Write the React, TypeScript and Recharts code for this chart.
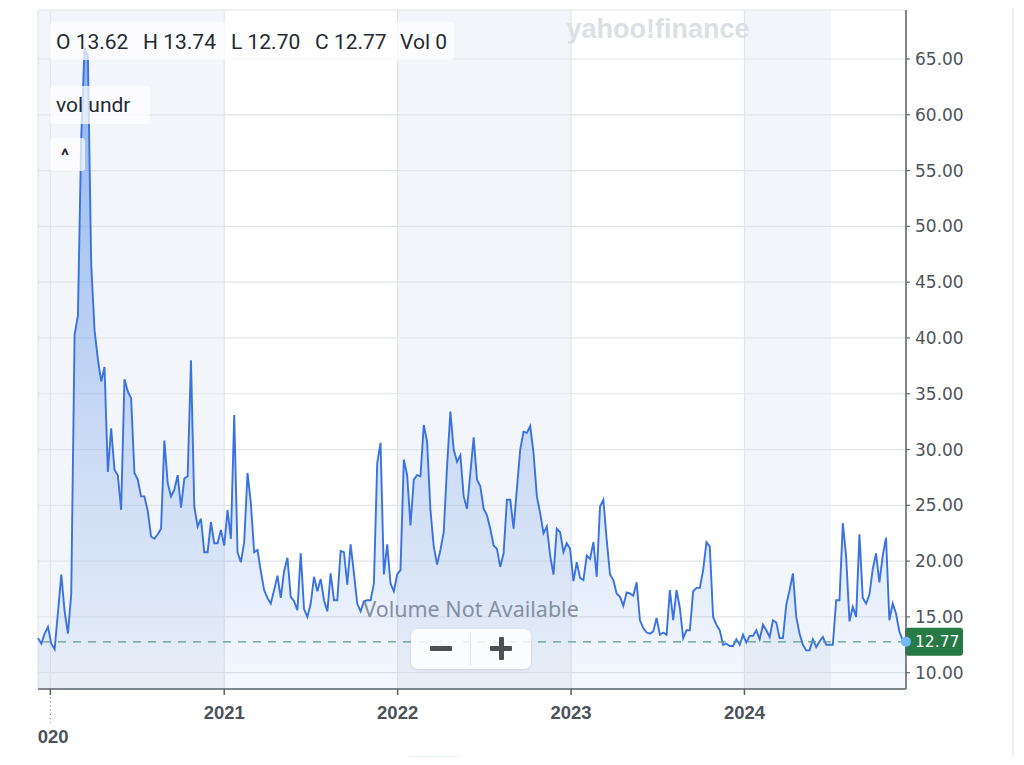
import React from 'react';
import {
  ComposedChart,
  Area,
  XAxis,
  YAxis,
  CartesianGrid,
  ReferenceLine,
  ReferenceArea,
  ReferenceDot,
} from 'recharts';

// ---- data (weekly closes) ----
const START_DATE = '2019-12-06';
const closes: number[] = [
  // Dec 2019 - Sep 2020
  13.1, 12.6, 13.5, 14.1, 12.6, 12.1, 15.4, 18.8, 15.5, 13.5, 17.1, 40.3, 42.0, 58.0, 66.0, 65.2, 46.6, 40.7, 38.1, 36.1,
  37.4, 28.0, 31.9, 28.2, 27.7, 24.6, 36.3, 35.2, 34.6, 27.9, 27.3, 25.8, 25.8, 24.5, 22.2, 22.0, 22.4, 22.9, 30.8, 27.0,
  25.8, 26.4,
  // Sep 2020 - Jul 2021
  27.7, 24.8, 27.4, 27.6, 38.0, 24.9, 23.1, 23.8, 20.8, 20.8, 23.5, 21.6, 21.6, 22.8, 21.4, 24.6, 22.0, 33.1, 20.8, 19.9,
  21.7, 27.9, 25.2, 20.8, 21.0, 19.1, 17.4, 16.7, 16.2, 17.4, 18.7, 16.7, 19.1, 20.3, 16.8, 16.4, 15.6, 20.7, 15.7, 15.0,
  16.2, 18.6, 17.3,
  // Jul 2021 - May 2022
  18.4, 16.5, 15.5, 18.9, 16.5, 16.5, 20.9, 20.8, 17.9, 21.5, 18.9, 16.2, 15.5, 16.4, 16.5, 16.5, 18.0, 28.8, 30.6, 18.8,
  21.5, 18.0, 17.3, 18.8, 19.2, 29.1, 27.7, 23.2, 27.3, 27.7, 27.6, 32.2, 30.7, 24.6, 21.3, 19.7, 21.0, 22.6, 28.5, 33.4,
  30.0, 28.9,
  // May 2022 - Mar 2023
  29.5, 25.8, 24.7, 27.9, 31.1, 27.3, 26.7, 24.7, 24.1, 22.9, 21.4, 21.1, 19.5, 20.7, 25.5, 25.5, 22.9, 26.5, 30.0, 31.6,
  31.5, 32.1, 29.7, 25.8, 24.3, 22.5, 23.1, 20.5, 18.8, 22.9, 22.6, 20.8, 21.6, 21.1, 18.2, 19.9, 18.5, 18.3, 20.5, 20.2,
  21.7, 18.6, 24.9, 25.5, 21.9,
  // Mar 2023 - Jan 2024
  18.8, 18.3, 17.1, 16.8, 16.0, 17.2, 17.1, 16.9, 18.1, 14.7, 14.0, 13.6, 13.5, 13.7, 14.9, 13.4, 13.6, 13.4, 17.4, 14.7,
  17.4, 15.8, 13.1, 13.8, 13.8, 17.3, 17.6, 17.6, 19.2, 21.7, 21.3, 15.0, 14.3, 13.8, 12.5, 12.6, 12.4, 12.4, 13.0, 12.5,
  13.4, 12.7, 13.3,
  // Jan 2024 - Dec 2024
  13.3, 13.8, 13.0, 14.3, 13.8, 13.2, 14.7, 14.5, 13.1, 13.1, 16.1, 17.4, 18.9, 15.0, 13.5, 12.5, 12.0, 12.0, 13.0, 12.3,
  12.8, 13.2, 12.5, 12.5, 12.5, 16.5, 16.5, 23.4, 20.4, 14.6, 15.9, 15.0, 22.4, 16.7, 16.2, 17.0, 19.3, 20.7, 18.1, 20.5,
  22.1, 14.7, 16.2, 15.3, 13.7, 12.9, 12.77,
];
const yearTickDates = ['2020-01-01', '2021-01-01', '2022-01-01', '2023-01-01', '2024-01-01'];
const priceTicks = [10, 15, 20, 25, 30, 35, 40, 45, 50, 55, 60, 65];
const shadedStarts = [START_DATE, '2022-01-01', '2024-01-01'];
const shadedEnds = ['2021-01-01', '2023-01-01', '2024-07-01'];
const LAST_CLOSE = 12.77;
const ohlc = [
  { label: 'O', value: '13.62' },
  { label: 'H', value: '13.74' },
  { label: 'L', value: '12.70' },
  { label: 'C', value: '12.77' },
  { label: 'Vol', value: '0' },
];

const DAY = 86400000;
const toMs = (d: string) => Date.parse(d + 'T00:00:00Z');
const startMs = toMs(START_DATE);
const data = closes.map((v, i) => ({ t: startMs + i * 7 * DAY, v }));
const lastT = data[data.length - 1].t;
const yearTicks = yearTickDates.map(toMs);

const YearTick = (props: any) => {
  const { x, y, payload } = props;
  const year = new Date(payload.value).getUTCFullYear();
  if (year === 2020) {
    return (
      <g>
        <line x1={x} x2={x} y1={y - 9} y2={y + 17} stroke="#8b9096" strokeWidth={1.2} strokeDasharray="1.2 3" />
        <text
          x={x - 23}
          y={y + 24}
          dy="0.71em"
          textAnchor="start"
          clipPath="url(#leftClip)"
          fill="#4b5259"
          fontSize={18.5}
          fontWeight="bold"
          fontFamily="Liberation Sans, Arial, sans-serif"
        >
          {year}
        </text>
      </g>
    );
  }
  return (
    <text
      x={x}
      y={y}
      dy="0.71em"
      textAnchor="middle"
      fill="#4b5259"
      fontSize={18.5}
      fontWeight="bold"
      fontFamily="Liberation Sans, Arial, sans-serif"
    >
      {year}
    </text>
  );
};

const LastLabel = (props: any) => {
  const { viewBox } = props;
  const x = viewBox.x + viewBox.width;
  const y = viewBox.y;
  return (
    <g>
      <rect x={x - 1} y={y - 14} width={58} height={28} rx={3} fill="#277a45" />
      <text
        x={x + 9}
        y={y + 1}
        dominantBaseline="middle"
        fill="#ffffff"
        fontSize={15.5}
        fontFamily="DejaVu Sans, sans-serif"
      >
        {LAST_CLOSE.toFixed(2)}
      </text>
    </g>
  );
};

const boxStyle: React.CSSProperties = {
  position: 'absolute',
  background: 'rgba(255,255,255,0.72)',
  borderRadius: 3,
};

export default function App() {
  return (
    <div
      style={{
        position: 'relative',
        width: 1024,
        height: 765,
        margin: -8,
        background: '#ffffff',
        overflow: 'hidden',
        fontFamily: 'Roboto, sans-serif',
      }}
    >
      <ComposedChart
        width={1024}
        height={765}
        data={data}
        margin={{ top: 10, right: 0, bottom: 0, left: 38 }}
      >
        <defs>
          <linearGradient id="areaFill" x1="0" y1="0" x2="0" y2="1">
            <stop offset="0%" stopColor="#3b7de8" stopOpacity={0.56} />
            <stop offset="16%" stopColor="#3b7de8" stopOpacity={0.45} />
            <stop offset="63%" stopColor="#3b7de8" stopOpacity={0.21} />
            <stop offset="86%" stopColor="#3b7de8" stopOpacity={0.12} />
            <stop offset="100%" stopColor="#3b7de8" stopOpacity={0.05} />
          </linearGradient>
          <clipPath id="leftClip">
            <rect x={38} y={0} width={1000} height={765} />
          </clipPath>
        </defs>
        {shadedStarts.map((s, i) => (
          <ReferenceArea
            key={s}
            x1={Math.max(toMs(s), startMs)}
            x2={toMs(shadedEnds[i])}
            y1={8.54}
            y2={69.39}
            fill="#eef1f7"
            fillOpacity={0.75}
            stroke="none"
            ifOverflow="hidden"
            {...({ zIndex: -150 } as any)}
          />
        ))}
        <CartesianGrid stroke="#e3e5e9" strokeWidth={1.2} />
        <XAxis
          dataKey="t"
          type="number"
          scale="time"
          domain={[startMs, lastT]}
          ticks={yearTicks}
          tick={<YearTick />}
          tickSize={6}
          tickMargin={11}
          height={76}
          axisLine={{ stroke: '#5b636a', strokeWidth: 1.5 }}
          tickLine={{ stroke: '#5b636a', strokeWidth: 1.5 }}
          interval={0}
        />
        <YAxis
          orientation="right"
          type="number"
          domain={[8.54, 69.39]}
          allowDataOverflow
          ticks={priceTicks}
          tickFormatter={(v: number) => v.toFixed(2)}
          width={118}
          tickSize={4}
          tickMargin={5}
          interval={0}
          axisLine={{ stroke: '#5b636a', strokeWidth: 1.5 }}
          tickLine={{ stroke: '#5b636a', strokeWidth: 1.2 }}
          tick={{ fill: '#4d545b', fontSize: 17, fontFamily: 'DejaVu Sans, sans-serif' }}
        />
        <Area
          type="linear"
          dataKey="v"
          stroke="#3a72e2"
          strokeWidth={1.9}
          fill="url(#areaFill)"
          fillOpacity={1}
          baseValue={8.54}
          isAnimationActive={false}
          dot={false}
          activeDot={false}
        />
        <ReferenceLine
          y={LAST_CLOSE}
          stroke="#5b9b88"
          strokeWidth={1.3}
          strokeDasharray="8 7"
          label={<LastLabel />}
        />
        <ReferenceDot x={lastT} y={LAST_CLOSE} r={5} fill="#74b9f5" stroke="none" />
        <text
          x={658}
          y={38}
          textAnchor="middle"
          fill="#dcdfe4"
          fontSize={27}
          fontWeight="bold"
          fontFamily="Liberation Sans, Arial, sans-serif"
        >
          yahoo!finance
        </text>
        <text
          x={471}
          y={617}
          textAnchor="middle"
          fill="#8d9298"
          fontSize={21.5}
          fontFamily="Noto Sans, sans-serif"
        >
          Volume Not Available
        </text>
      </ComposedChart>

      {/* frame lines */}
      <div style={{ position: 'absolute', left: 30, top: 5, width: 946, height: 2, background: '#e8e9eb' }} />
      <div style={{ position: 'absolute', left: 1012, top: 0, width: 2, height: 765, background: '#eeeff1' }} />

      {/* OHLC legend */}
      <div style={{ ...boxStyle, left: 50, top: 22, width: 404, height: 38 }} />
      {ohlc.map((o, i) => (
        <div
          key={o.label}
          style={{
            position: 'absolute',
            left: [56, 143, 231, 315, 400][i],
            top: 28,
            fontSize: 21,
            lineHeight: '28px',
            color: '#232a31',
            whiteSpace: 'pre',
          }}
        >
          {o.label + ' ' + o.value}
        </div>
      ))}
      <div style={{ ...boxStyle, left: 50, top: 86, width: 100, height: 38 }} />
      <div
        style={{ position: 'absolute', left: 56, top: 91, fontSize: 21, lineHeight: '28px', color: '#232a31' }}
      >
        vol undr
      </div>
      <div style={{ ...boxStyle, left: 50, top: 138, width: 35, height: 33 }} />
      <div
        style={{
          position: 'absolute',
          left: 61,
          top: 145,
          fontSize: 18,
          lineHeight: '22px',
          color: '#232a31',
          fontWeight: 'bold',
        }}
      >
        ^
      </div>

      {/* zoom buttons */}
      <div
        style={{
          position: 'absolute',
          left: 411,
          top: 629,
          width: 120,
          height: 40,
          background: 'rgba(255,255,255,0.85)',
          borderRadius: 7,
          boxShadow: '0 1px 3px rgba(0,0,0,0.12)',
        }}
      />
      <div style={{ position: 'absolute', left: 470, top: 633, width: 1, height: 32, background: '#e2e4e7' }} />
      <div style={{ position: 'absolute', left: 430, top: 646, width: 22, height: 5, background: '#4d4f52', borderRadius: 1 }} />
      <div style={{ position: 'absolute', left: 490, top: 646, width: 22, height: 5, background: '#4d4f52', borderRadius: 1 }} />
      <div style={{ position: 'absolute', left: 498.5, top: 637, width: 5, height: 23, background: '#4d4f52', borderRadius: 1 }} />

      {/* bottom button stub */}
      <div
        style={{
          position: 'absolute',
          left: 405,
          top: 756,
          width: 57,
          height: 20,
          background: '#e8f0fb',
          borderRadius: 6,
        }}
      />
    </div>
  );
}
